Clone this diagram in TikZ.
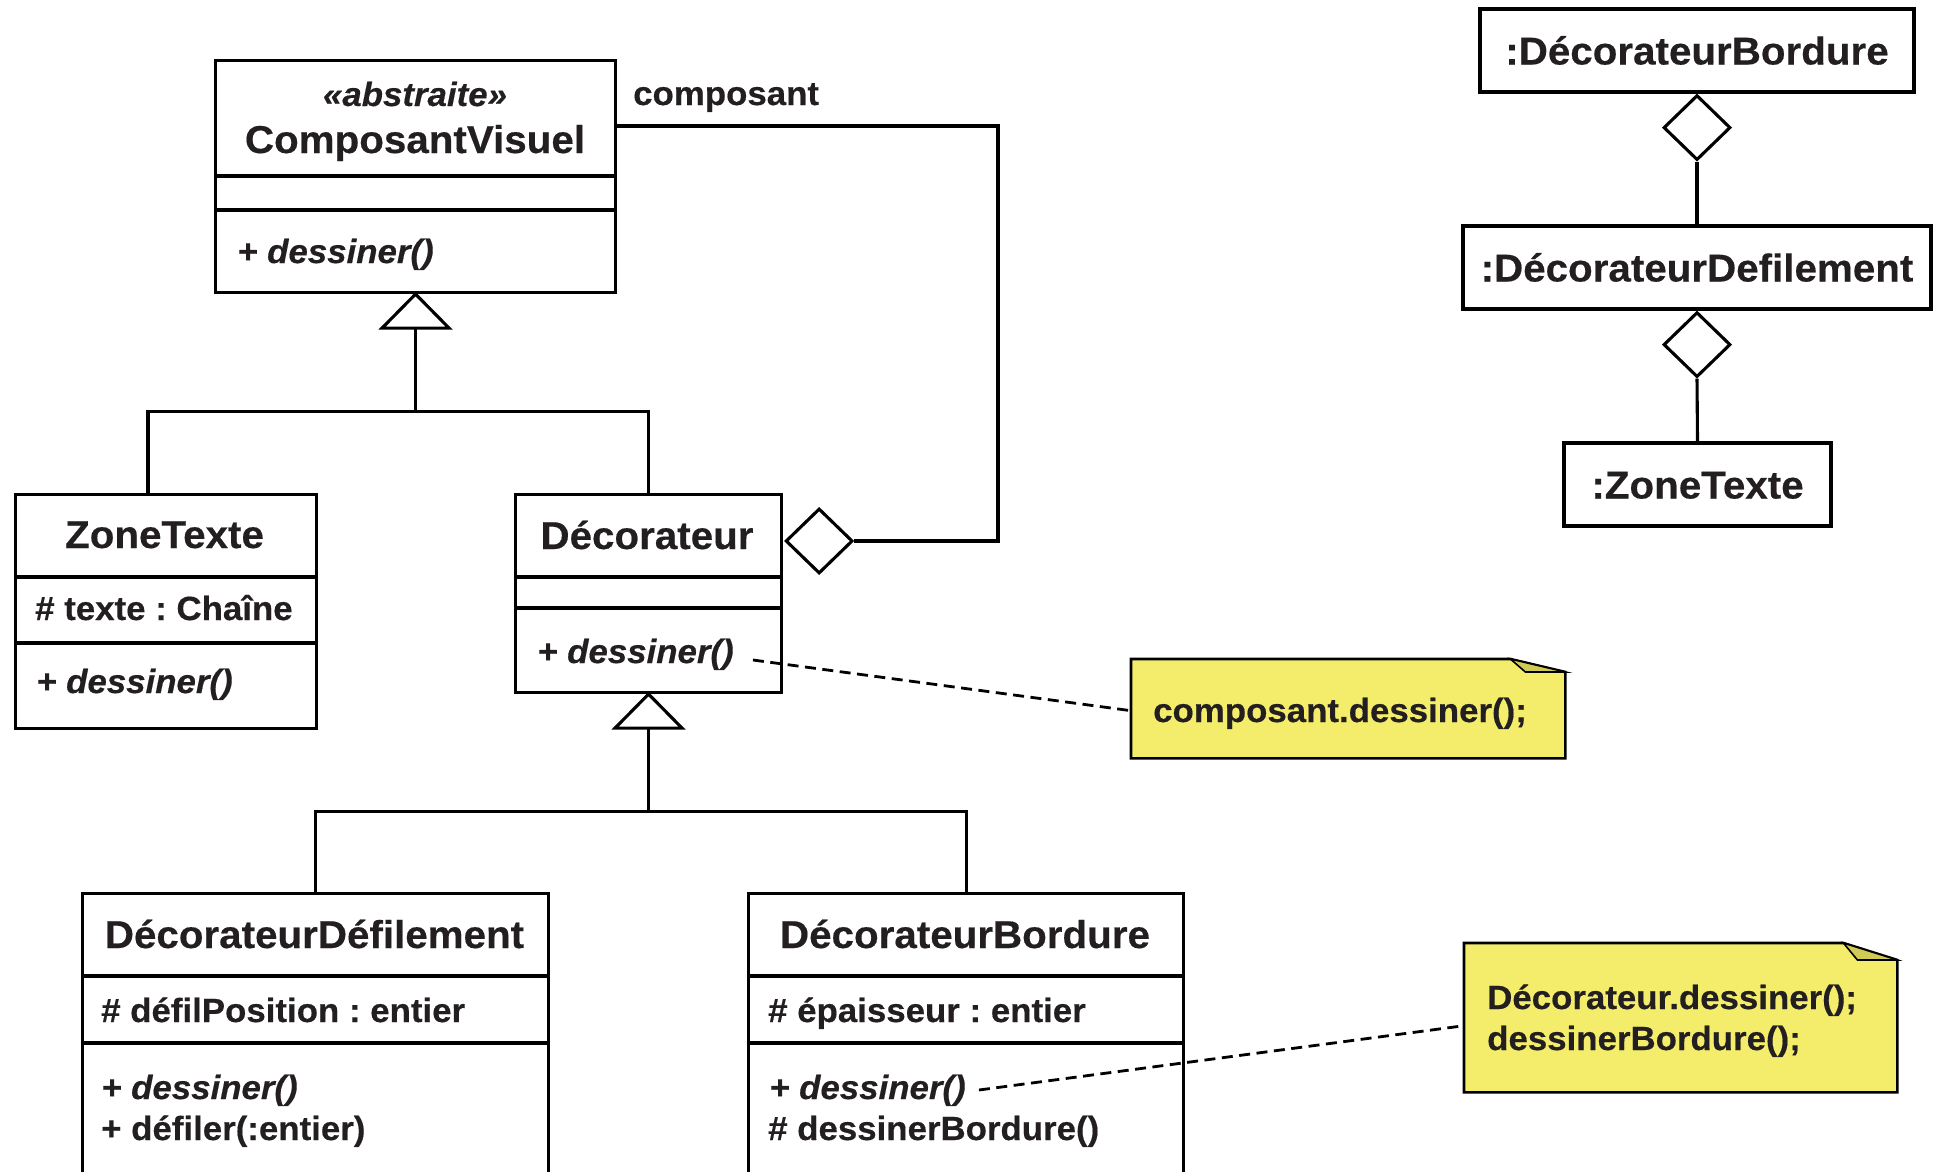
\documentclass[tikz,border=0pt]{standalone}
\usepackage{fontspec}
\setmainfont[FakeStretch=1.04,FakeBold=0.4]{Liberation Sans}
\usetikzlibrary{shapes.geometric,calc}
\definecolor{ink}{HTML}{231F20}
\definecolor{notefill}{HTML}{F4ED6C}
\definecolor{notefold}{HTML}{CFCB55}
\frenchspacing

\begin{document}
\begin{tikzpicture}[x=1pt,y=-1pt,
  outline/.style={draw=black, line width=3.1pt, line join=miter},
  classbox/.style={outline, rectangle, inner sep=0pt, anchor=north west},
  title/.style={font=\fontsize{38.8}{46}\selectfont\bfseries, text=ink, inner sep=0pt, anchor=base},
  member/.style={font=\fontsize{33.5}{40}\selectfont\bfseries, text=ink, inner sep=0pt, anchor=base west},
  abstractop/.style={member, font=\fontsize{33.5}{40}\selectfont\bfseries\itshape},
  objbox/.style={outline, rectangle, inner sep=0pt, font=\fontsize{38.8}{46}\selectfont\bfseries,
    text=ink, text height=28pt, text depth=0pt},
  aggr/.style={outline, diamond, fill=white, inner sep=0pt, minimum width=67pt, minimum height=65pt},
  notearea/.style={rectangle, inner sep=0pt, anchor=north west},
  noteline/.style={draw=black, line width=2.6pt, line join=miter},
  notetext/.style={font=\fontsize{33.5}{40}\selectfont\bfseries, text=ink, inner sep=0pt, anchor=base west},
  link/.style={draw=black, line width=2.8pt, dash pattern=on 11pt off 6.5pt}
]
\clip (0,0) rectangle (1943,1172);

% ---------- ComposantVisuel ----------
\node[classbox, minimum width=400pt, minimum height=232pt] (cv) at (214,59) {};
\draw[outline] ($(cv.north west)+(0,117)$) -- ($(cv.north east)+(0,117)$);
\draw[outline] ($(cv.north west)+(0,151)$) -- ($(cv.north east)+(0,151)$);
\node[title, font=\fontsize{33.5}{40}\selectfont\bfseries\itshape] (cvster) at (415,106) {«abstraite»};
\node[title] (cvname) at (415,153) {ComposantVisuel};
\node[abstractop] (cvop) at (237,263) {+ dessiner()};

% ---------- ZoneTexte ----------
\node[classbox, minimum width=301pt, minimum height=234pt] (zt) at (14,493) {};
\draw[outline] ($(zt.north west)+(0,84)$) -- ($(zt.north east)+(0,84)$);
\draw[outline] ($(zt.north west)+(0,150)$) -- ($(zt.north east)+(0,150)$);
\node[title] (ztname) at (164.5,548) {ZoneTexte};
\node[member] (ztattr) at (35,620) {\# texte : Chaîne};
\node[abstractop] (ztop) at (36,693) {+ dessiner()};

% ---------- Décorateur ----------
\node[classbox, minimum width=266pt, minimum height=198pt] (dec) at (514,493) {};
\draw[outline] ($(dec.north west)+(0,84)$) -- ($(dec.north east)+(0,84)$);
\draw[outline] ($(dec.north west)+(0,115)$) -- ($(dec.north east)+(0,115)$);
\node[title] (decname) at (647,549) {Décorateur};
\node[abstractop] (decop) at (537,663) {+ dessiner()};

% ---------- DécorateurDéfilement ----------
\node[classbox, minimum width=466pt, minimum height=300pt] (dd) at (81,892) {};
\draw[outline] ($(dd.north west)+(0,84)$) -- ($(dd.north east)+(0,84)$);
\draw[outline] ($(dd.north west)+(0,151)$) -- ($(dd.north east)+(0,151)$);
\node[title] (ddname) at (314.5,948) {DécorateurDéfilement};
\node[member] (ddattr) at (101,1022) {\# défilPosition : entier};
\node[abstractop] (ddop) at (101,1099) {+ dessiner()};
\node[member] (ddop2) at (101,1140) {+ défiler(:entier)};

% ---------- DécorateurBordure ----------
\node[classbox, minimum width=435pt, minimum height=300pt] (db) at (747,892) {};
\draw[outline] ($(db.north west)+(0,84)$) -- ($(db.north east)+(0,84)$);
\draw[outline] ($(db.north west)+(0,151)$) -- ($(db.north east)+(0,151)$);
\node[title] (dbname) at (965,948) {DécorateurBordure};
\node[member] (dbattr) at (768,1022) {\# épaisseur : entier};
\node[abstractop] (dbop) at (769,1099) {+ dessiner()};
\node[member] (dbop2) at (768,1140) {\# dessinerBordure()};

% ---------- generalisations ----------
\draw[outline, fill=white] (cv.south) -- ++(-33.5,34) -- ++(67,0) -- cycle;
\coordinate (cvbase) at ($(cv.south)+(0,34)$);
\coordinate (j1) at ($(cv.south)+(0,117)$);
\draw[outline] (cvbase) -- (j1);
\draw[outline] ($(zt.north west)+(134,0)$) |- (j1) -| (dec.north);

\draw[outline, fill=white] (dec.south) -- ++(-33.5,34) -- ++(67,0) -- cycle;
\coordinate (decbase) at ($(dec.south)+(0,34)$);
\coordinate (j2) at ($(dec.south)+(0,117)$);
\draw[outline] (decbase) -- (j2);
\draw[outline] (dd.north) |- (j2) -| (db.north);

% ---------- aggregation composant ----------
\node[aggr, anchor=west] (agg) at ($(dec.north east)+(1,48)$) {};
\coordinate (cvport) at ($(cv.north east)+(0,67)$);
\coordinate (bend) at (998,126);
\draw[outline] (agg.east) -| (bend) -- (cvport);
\node[member] (rolename) at (633,105) {composant};

% ---------- notes ----------
\node[notearea, minimum width=434pt, minimum height=99pt] (n1) at (1131,659) {};
\filldraw[noteline, fill=notefill] (n1.north west) -- ($(n1.north east)+(-55,0)$)
  -- ($(n1.north east)+(0,13)$) -- (n1.south east) -- (n1.south west) -- cycle;
\filldraw[noteline, fill=notefold, line width=1.6pt] ($(n1.north east)+(-55,0)$)
  -- ($(n1.north east)+(-40,13)$) -- ($(n1.north east)+(0,13)$) -- cycle;
\node[notetext] (n1text) at (1153,722) {composant.dessiner();};

\node[notearea, minimum width=433pt, minimum height=149pt] (n2) at (1464,943) {};
\filldraw[noteline, fill=notefill] (n2.north west) -- ($(n2.north east)+(-54,0)$)
  -- ($(n2.north east)+(0,17)$) -- (n2.south east) -- (n2.south west) -- cycle;
\filldraw[noteline, fill=notefold, line width=1.6pt] ($(n2.north east)+(-54,0)$)
  -- ($(n2.north east)+(-40,17)$) -- ($(n2.north east)+(0,17)$) -- cycle;
\node[notetext] (n2text) at (1487,1009) {Décorateur.dessiner();};
\node[notetext] (n2text2) at (1487,1050) {dessinerBordure();};

\draw[link] ([xshift=19pt,yshift=3pt]decop.base east) -- ([yshift=-2pt]n1.west);
\draw[link] ([xshift=13pt,yshift=9pt]dbop.base east) -- ([yshift=-8pt]n2.west);

% ---------- object diagram ----------
\node[objbox, minimum width=434pt, minimum height=83pt] (oBord) at (1697,50.5) {:DécorateurBordure};
\node[objbox, minimum width=468pt, minimum height=83pt] (oDef) at (1697,267.5) {:DécorateurDefilement};
\node[objbox, minimum width=267pt, minimum height=83pt] (oZone) at (1697.5,484.5) {:ZoneTexte};
\node[aggr, anchor=north] (dia1) at (oBord.south) {};
\node[aggr, anchor=north] (dia2) at (oDef.south) {};
\draw[outline] (dia1.south) -- (oDef.north);
\draw[outline] (dia2.south) -- (oZone.north);
\end{tikzpicture}
\end{document}
